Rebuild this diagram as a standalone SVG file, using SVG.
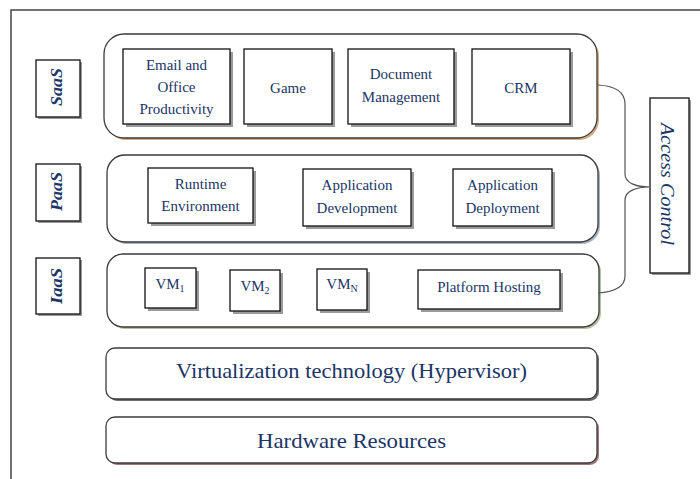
<svg xmlns="http://www.w3.org/2000/svg" width="700" height="479" viewBox="0 0 700 479">
<style>
.t{font-family:"Liberation Serif","DejaVu Serif",serif;fill:#1b3566;font-size:15px;text-anchor:middle}
.big{font-size:22px}
.side{font-weight:bold;font-style:italic;font-size:17px}
.ac{font-style:italic;font-size:18px}
.layer{fill:#fff;stroke:#3a3a3a;stroke-width:1.3}
.box{fill:#fff;stroke:#111;stroke-width:1.3}
.sh{fill:#9a9a9a}
.conn{fill:none;stroke:#555;stroke-width:1.2}
</style>
<rect width="700" height="479" fill="#fff"/>
<path d="M11,479 V10 H700" fill="none" stroke="#444" stroke-width="1.5"/>

<g id="saas-label">
<rect class="sh" x="38" y="62" width="44" height="57"/>
<rect class="box" x="36" y="60" width="44" height="57"/>
<text class="t side" transform="translate(62,87) rotate(-90)" textLength="38" lengthAdjust="spacingAndGlyphs">SaaS</text>
</g>
<g id="paas-label">
<rect class="sh" x="38" y="166" width="44" height="57"/>
<rect class="box" x="36" y="164" width="44" height="57"/>
<text class="t side" transform="translate(62,191.5) rotate(-90)" textLength="39" lengthAdjust="spacingAndGlyphs">PaaS</text>
</g>
<g id="iaas-label">
<rect class="sh" x="38" y="260" width="44" height="56"/>
<rect class="box" x="36" y="258" width="44" height="56"/>
<text class="t side" transform="translate(62,286) rotate(-90)" textLength="36" lengthAdjust="spacingAndGlyphs">IaaS</text>
</g>

<g id="saas">
<rect x="106" y="36" width="493" height="104" rx="20" fill="#d8ad85"/>
<rect class="layer" x="104" y="34" width="493" height="104" rx="20"/>
</g>
<g id="email">
<rect class="sh" x="126" y="52" width="107" height="75"/>
<rect class="box" x="123" y="49" width="107" height="75"/>
<text class="t" x="176.5" y="70">Email and</text>
<text class="t" x="176.5" y="92">Office</text>
<text class="t" x="176.5" y="114">Productivity</text>
</g>
<g id="game">
<rect class="sh" x="247" y="52" width="88" height="75"/>
<rect class="box" x="244" y="49" width="88" height="75"/>
<text class="t" x="288" y="93">Game</text>
</g>
<g id="document">
<rect class="sh" x="351" y="52" width="106" height="75"/>
<rect class="box" x="348" y="49" width="106" height="75"/>
<text class="t" x="401" y="79">Document</text>
<text class="t" x="401" y="102">Management</text>
</g>
<g id="crm">
<rect class="sh" x="475" y="52" width="98" height="75"/>
<rect class="box" x="472" y="49" width="98" height="75"/>
<text class="t" x="521" y="93">CRM</text>
</g>

<g id="paas">
<rect x="109" y="157" width="491" height="87" rx="18" fill="#a8b4c4"/>
<rect class="layer" x="107" y="155" width="491" height="87" rx="18"/>
</g>
<g id="runtime">
<rect class="sh" x="151" y="171" width="105" height="55"/>
<rect class="box" x="148" y="168" width="105" height="55"/>
<text class="t" x="200.5" y="189">Runtime</text>
<text class="t" x="200.5" y="211">Environment</text>
</g>
<g id="appdev">
<rect class="sh" x="306" y="172" width="108" height="57"/>
<rect class="box" x="303" y="169" width="108" height="57"/>
<text class="t" x="357" y="190">Application</text>
<text class="t" x="357" y="213">Development</text>
</g>
<g id="appdeploy">
<rect class="sh" x="456" y="172" width="99" height="57"/>
<rect class="box" x="453" y="169" width="99" height="57"/>
<text class="t" x="502.5" y="190">Application</text>
<text class="t" x="502.5" y="213">Deployment</text>
</g>

<g id="iaas">
<rect x="109" y="256" width="492" height="73" rx="16" fill="#b4c0a0"/>
<rect class="layer" x="107" y="254" width="492" height="73" rx="16"/>
</g>
<g id="vm1">
<rect class="sh" x="148" y="271" width="51" height="40"/>
<rect class="box" x="145" y="268" width="51" height="40"/>
<text class="t" x="170" y="289">VM<tspan font-size="10" dy="3">1</tspan></text>
</g>
<g id="vm2">
<rect class="sh" x="233" y="273" width="50" height="41"/>
<rect class="box" x="230" y="270" width="50" height="41"/>
<text class="t" x="255" y="291">VM<tspan font-size="10" dy="3">2</tspan></text>
</g>
<g id="vmn">
<rect class="sh" x="320" y="272" width="50" height="41"/>
<rect class="box" x="317" y="269" width="50" height="41"/>
<text class="t" x="342" y="289">VM<tspan font-size="10" dy="3">N</tspan></text>
</g>
<g id="platform">
<rect class="sh" x="421" y="273" width="142" height="39"/>
<rect class="box" x="418" y="270" width="142" height="39"/>
<text class="t" x="489" y="292">Platform Hosting</text>
</g>

<g id="virtualization">
<rect x="108" y="350" width="491" height="51" rx="9" fill="#707070"/>
<rect class="layer" x="106" y="348" width="491" height="51" rx="9"/>
<text class="t big" x="351.5" y="378" textLength="351" lengthAdjust="spacingAndGlyphs">Virtualization technology (Hypervisor)</text>
</g>
<g id="hardware">
<rect x="108" y="419" width="491" height="46" rx="9" fill="#a07878"/>
<rect class="layer" x="106" y="417" width="491" height="46" rx="9"/>
<text class="t big" x="351.5" y="448" textLength="189" lengthAdjust="spacingAndGlyphs">Hardware Resources</text>
</g>

<g id="access-control">
<rect class="sh" x="652" y="100" width="39" height="175"/>
<rect class="box" x="650" y="98" width="39" height="175"/>
<text class="t ac" transform="translate(661,184) rotate(90)" textLength="122" lengthAdjust="spacingAndGlyphs">Access Control</text>
</g>

<g id="connectors">
<path class="conn" d="M598,85 C616,86 625,92 625,104 L625,174 C625,183 636,187 650,187 C636,187 625,191 625,200 L625,276 C625,288 613,292 598,293"/>
</g>
</svg>
